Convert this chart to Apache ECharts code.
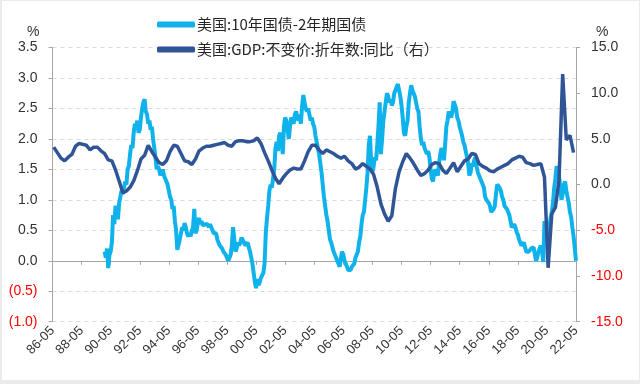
<!DOCTYPE html>
<html><head><meta charset="utf-8">
<script src="https://cdn.jsdelivr.net/npm/echarts@6/dist/echarts.min.js"></script>
<style>
html,body{margin:0;padding:0;background:#ebebeb;width:640px;height:384px;overflow:hidden}
#c{position:absolute;left:2px;top:1px;width:637px;height:379px;background:#fff}
</style></head>
<body><div id="c"></div>
<script>
// ---- data ----
const axisStart = [1986, 5];      // first category month
const axisMonths = 433;           // 1986-05 .. 2022-05
const labelEvery = 24;            // tick label every 2 years

const spreadName = '美国:10年国债-2年期国债';
const gdpName = '美国:GDP:不变价:折年数:同比（右）';

// monthly 10Y-2Y spread (%), starting 1989-12
const spreadStart = '1989-12';
const spread = [
0.15,
0.05,0.2,-0.12,0.1,0.15,0.3,0.75,0.6,0.9,0.85,0.68,0.95,
1.05,1.15,1.1,1.2,1.3,1.25,1.5,1.55,1.75,1.9,1.85,2.1,
2.25,2.2,2.3,2.1,2.15,2.35,2.5,2.6,2.65,2.45,2.4,2.25,
2.3,2.15,2.2,2.0,1.85,1.7,1.5,1.55,1.5,1.4,1.45,1.5,
1.4,1.35,1.3,1.25,1.15,1.05,1.0,0.85,0.9,0.65,0.5,0.18,
0.2,0.35,0.45,0.55,0.5,0.62,0.55,0.45,0.4,0.45,0.4,0.5,
0.55,0.85,0.45,0.5,0.65,0.7,0.6,0.65,0.58,0.55,0.6,0.62,
0.6,0.55,0.6,0.55,0.5,0.45,0.42,0.45,0.35,0.3,0.25,0.28,
0.2,0.15,0.12,0.1,0.05,0.0,-0.02,0.1,0.25,0.55,0.35,0.15,
0.2,0.3,0.25,0.3,0.38,0.35,0.3,0.25,0.28,0.3,0.22,0.15,
0.05,-0.05,-0.2,-0.35,-0.45,-0.3,-0.4,-0.35,-0.28,-0.3,-0.2,-0.05,
0.45,0.7,0.9,1.15,1.25,1.2,1.35,1.5,1.85,1.95,1.8,2.05,
2.1,1.95,1.75,2.2,2.35,2.3,2.15,2.0,2.2,2.35,2.3,2.25,
2.4,2.45,2.35,2.3,2.4,2.25,2.55,2.72,2.6,2.5,2.45,2.5,
2.4,2.3,2.35,2.25,2.2,2.05,1.95,1.85,1.75,1.6,1.45,1.25,
1.05,0.9,0.75,0.65,0.5,0.35,0.3,0.22,0.15,0.12,0.05,0.0,
-0.05,-0.1,0.05,0.15,0.1,0.0,-0.05,-0.1,-0.15,-0.12,-0.15,-0.1,
-0.1,-0.05,0.05,0.1,0.15,0.3,0.4,0.6,0.75,0.8,1.0,1.2,
1.45,1.9,2.05,1.6,1.45,1.55,1.7,1.65,1.9,2.2,2.6,1.75,
2.0,2.3,2.45,2.6,2.75,2.7,2.6,2.65,2.55,2.6,2.75,2.8,
2.85,2.9,2.8,2.7,2.55,2.35,2.1,2.05,2.2,2.3,2.6,2.75,
2.88,2.8,2.75,2.7,2.6,2.5,2.45,2.2,2.0,1.9,1.95,1.85,
1.85,1.75,1.8,1.7,1.5,1.35,1.3,1.45,1.5,1.5,1.4,1.6,
1.75,1.85,1.8,1.65,1.9,2.2,2.3,2.45,2.45,2.35,2.45,2.62,
2.6,2.5,2.35,2.3,2.2,2.2,2.05,1.95,1.9,1.8,1.7,1.6,
1.4,1.45,1.6,1.55,1.65,1.7,1.55,1.45,1.4,1.35,1.3,1.25,
1.2,1.05,1.0,1.0,0.95,0.9,0.8,0.8,0.85,0.9,1.1,1.25,
1.25,1.2,1.15,1.05,1.0,0.9,0.92,0.85,0.82,0.75,0.65,0.55,
0.55,0.6,0.55,0.47,0.43,0.35,0.3,0.25,0.25,0.3,0.22,0.15,
0.17,0.15,0.15,0.2,0.18,0.22,0.25,0.0,0.05,0.15,0.2,0.25,
0.15,-0.02,0.65,0.45,0.4,0.35,0.55,0.7,0.8,0.95,1.2,1.35,
1.55,1.5,1.4,1.2,1.0,1.1,1.25,1.3,1.15,1.05,0.95,0.8,
0.72,0.55,0.4,0.2,0.0
];

// quarterly real GDP yoy (%), quarter-end months starting 1986-06
const gdpStart = '1986-06';
const gdp = [
4.1,3.5,2.9,
2.6,3.0,3.3,4.2,
4.5,4.4,4.3,3.8,
4.1,4.1,3.7,3.4,
2.7,2.6,1.6,0.4,
-0.9,-0.7,-0.3,0.4,
1.5,2.8,3.2,4.3,
3.6,3.0,2.4,2.2,
2.6,3.6,4.3,4.2,
3.4,2.6,2.5,2.2,
2.8,3.7,4.0,4.2,
4.2,4.3,4.4,4.5,
4.6,4.3,4.2,4.7,
4.8,4.8,4.7,4.7,
4.8,5.1,4.5,3.5,
2.6,1.6,0.7,0.1,
0.7,1.2,1.6,1.8,
1.7,1.7,2.6,3.6,
4.3,4.3,3.8,3.4,
3.8,3.6,3.4,3.1,
2.9,3.1,2.6,2.3,
1.7,1.9,2.3,2.0,
1.7,1.1,-0.3,-2.1,
-3.2,-4.0,-3.4,-0.4,
1.4,2.5,3.4,2.9,
2.3,1.6,1.0,1.2,
1.6,2.2,2.4,2.3,
1.6,1.2,1.8,2.4,
1.4,2.0,2.6,2.8,
3.4,3.3,2.3,2.0,
1.8,1.5,1.4,1.7,
1.9,2.1,2.3,2.7,
2.9,3.1,3.0,2.4,
2.3,2.1,2.2,2.3,
0.8,-9.1,-3.2,-2.5,
0.5,12.1,4.9,5.4,
3.5
];

// ---- build ----
const months = [];
for (let i = 0; i < axisMonths; i++) {
  const t = (axisStart[1] - 1) + i;
  const y = axisStart[0] + Math.floor(t / 12);
  const m = (t % 12) + 1;
  months.push(y + '-' + (m < 10 ? '0' + m : m));
}
function place(vals, start, step) {
  const arr = new Array(axisMonths).fill(null);
  const s = months.indexOf(start);
  vals.forEach((v, k) => { if (s + k * step < axisMonths) arr[s + k * step] = v; });
  return arr;
}
const spreadData = place(spread, spreadStart, 1);
const gdpData = place(gdp, gdpStart, 3);

const showIdx = (idx) => idx % labelEvery === 0;
const FONT = "'Liberation Sans', Arial, 'Noto Sans CJK SC', sans-serif";
const CJK = "'Noto Sans CJK SC', 'Microsoft YaHei', sans-serif";

const chart = echarts.init(document.getElementById('c'));
chart.setOption({
  animation: false,
  textStyle: { fontFamily: FONT },
  grid: { left: 50.5, right: 63, top: 46.5, bottom: 58.3 },
  legend: {
    orient: 'vertical', left: 150, top: 11, itemGap: 10,
    itemWidth: 38, itemHeight: 6, icon: 'roundRect',
    textStyle: { fontFamily: CJK, fontSize: 15, color: '#262626', padding: [0, 0, 0, -3] },
    data: [spreadName, gdpName]
  },
  graphic: [
    { type: 'text', left: 25, top: 24, style: { text: '%', font: '14px ' + FONT, fill: '#333' } },
    { type: 'text', left: 594, top: 24, style: { text: '%', font: '14px ' + FONT, fill: '#333' } }
  ],
  xAxis: [
    {
      type: 'category', data: months, boundaryGap: false,
      axisLine: { onZero: true, onZeroAxisIndex: 0, lineStyle: { color: '#a6a6a6', width: 1 } },
      axisTick: { show: true, interval: showIdx, length: 4, lineStyle: { color: '#a6a6a6' } },
      axisLabel: { show: false },
      splitLine: { show: false }
    },
    {
      type: 'category', data: months, boundaryGap: false, position: 'bottom',
      axisLine: { show: false, onZero: false },
      axisTick: { show: false },
      axisLabel: {
        show: true, interval: showIdx, rotate: 45, margin: 7, fontSize: 13, color: '#333',
        formatter: (v) => v.slice(2)
      },
      splitLine: { show: false }
    }
  ],
  yAxis: [
    {
      type: 'value', min: -1, max: 3.5, interval: 0.5,
      axisLine: { show: true, lineStyle: { color: '#a6a6a6' } },
      axisTick: { show: true, length: 4, lineStyle: { color: '#a6a6a6' } },
      axisLabel: {
        fontSize: 14, margin: 15,
        formatter: (v) => v < 0 ? '(' + Math.abs(v).toFixed(1) + ')' : v.toFixed(1),
        color: (v) => (parseFloat(v) < 0 ? '#ff0000' : '#333')
      },
      splitLine: { show: true, lineStyle: { color: '#d9d9d9', type: [4, 4] } }
    },
    {
      type: 'value', min: -15, max: 15, interval: 5, position: 'right',
      axisLine: { show: true, lineStyle: { color: '#a6a6a6' } },
      axisTick: { show: true, length: 4, lineStyle: { color: '#a6a6a6' } },
      axisLabel: {
        fontSize: 14, margin: 15,
        formatter: (v) => v.toFixed(1),
        color: (v) => (parseFloat(v) < 0 ? '#ff0000' : '#333')
      },
      splitLine: { show: false }
    }
  ],
  series: [
    {
      name: spreadName, type: 'line', xAxisIndex: 0, yAxisIndex: 0,
      data: spreadData, showSymbol: false, symbol: 'none',
      lineStyle: { width: 4, color: '#10b2ec' }, itemStyle: { color: '#10b2ec' }, z: 2
    },
    {
      name: gdpName, type: 'line', xAxisIndex: 0, yAxisIndex: 1,
      data: gdpData, connectNulls: true, showSymbol: false, symbol: 'none',
      lineStyle: { width: 3.5, color: '#2f5597' }, itemStyle: { color: '#2f5597' }, z: 3
    }
  ]
});
</script></body></html>
